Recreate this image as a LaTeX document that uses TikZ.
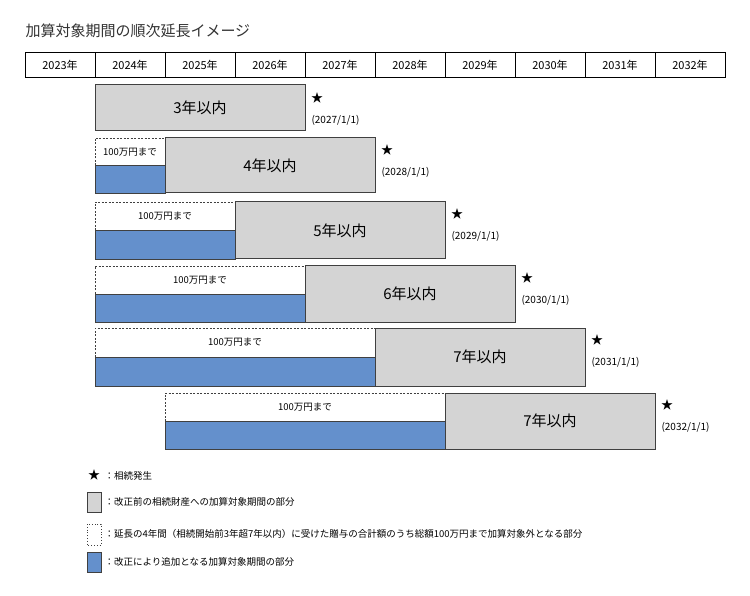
\documentclass[tikz,border=0pt]{standalone}
\usepackage{fontspec}
\setmainfont{Noto Sans CJK JP}
\begin{document}
\begin{tikzpicture}[x=1pt,y=-1pt,
 gbox/.style={draw=black!75,line width=1pt,fill=black!17},
 bbox/.style={draw=black!75,line width=0.8pt,fill={rgb,255:red,100;green,144;blue,204}},
 dbox/.style={draw=black!75,line width=0.8pt,dashed,dash pattern=on 2pt off 1.5pt},
 hdr/.style={draw=black,line width=0.6pt,minimum width=70pt,minimum height=25pt,inner sep=0pt,font=\fontsize{11}{12}\selectfont},
 big/.style={font=\fontsize{15}{16}\selectfont},
 small/.style={font=\fontsize{9.5}{10}\selectfont},
 dt/.style={font=\fontsize{10}{11}\selectfont,anchor=west},
 st/.style={font=\fontsize{12}{12}\selectfont}]
\useasboundingbox (0,0) rectangle (750,596);
\node[anchor=west,font=\fontsize{15}{16}\selectfont,text=black!80] (title) at (22,31) {加算対象期間の順次延長イメージ};
\foreach \y [count=\i from 0] in {2023,...,2032}
 \node[hdr] (h\i) at (60+70*\i,65) {\y 年};
% row1
\draw[gbox] (95,85) rectangle (305,131);
\node[big] (r1) at (200,108) {3年以内};
\node[st] (s1) at (317,98) {★};
\node[dt] (d1) at (308,120) {(2027/1/1)};
% generic rows
\foreach \L/\D/\G/\T/\B/\n/\yr in {95/165/375/138/193/4/2028,95/235/445/202/259/5/2029,95/305/515/266/322/6/2030,95/375/585/328/386/7/2031,165/445/655/393/449/7/2032}{
 \pgfmathsetmacro{\M}{(\T+\B)/2}
 \draw[bbox] (\L,\M) rectangle (\D,\B);
 \draw[dbox] (\D,\M) -- (\L,\M) -- (\L,\T) -- (\D,\T);
 \draw[gbox] (\D,\T) rectangle (\G,\B);
 \node[small] at ({(\L+\D)/2},{\T+(\M-\T)/2}) {100万円まで};
 \node[big] at ({(\D+\G)/2},{\M}) {\n 年以内};
 \node[st] at (\G+12,\T+12) {★};
 \node[dt] at (\G+3,\T+34) {(\yr/1/1)};
}
% legend
\node[st] (ls) at (94,475) {★};
\node[small,anchor=west] (lt1) at (101,476) {：相続発生};
\draw[gbox] (87,492) rectangle (101,512);
\node[small,anchor=west] (lt2) at (101,502) {：改正前の相続財産への加算対象期間の部分};
\draw[dbox,solid,dotted,line width=1pt] (87,524) rectangle (101,545);
\node[small,anchor=west] (lt3) at (101,534) {：延長の4年間（相続開始前3年超7年以内）に受けた贈与の合計額のうち総額100万円まで加算対象外となる部分};
\draw[bbox] (87,552) rectangle (101,572);
\node[small,anchor=west] (lt4) at (101,562) {：改正により追加となる加算対象期間の部分};
\end{tikzpicture}
\end{document}
